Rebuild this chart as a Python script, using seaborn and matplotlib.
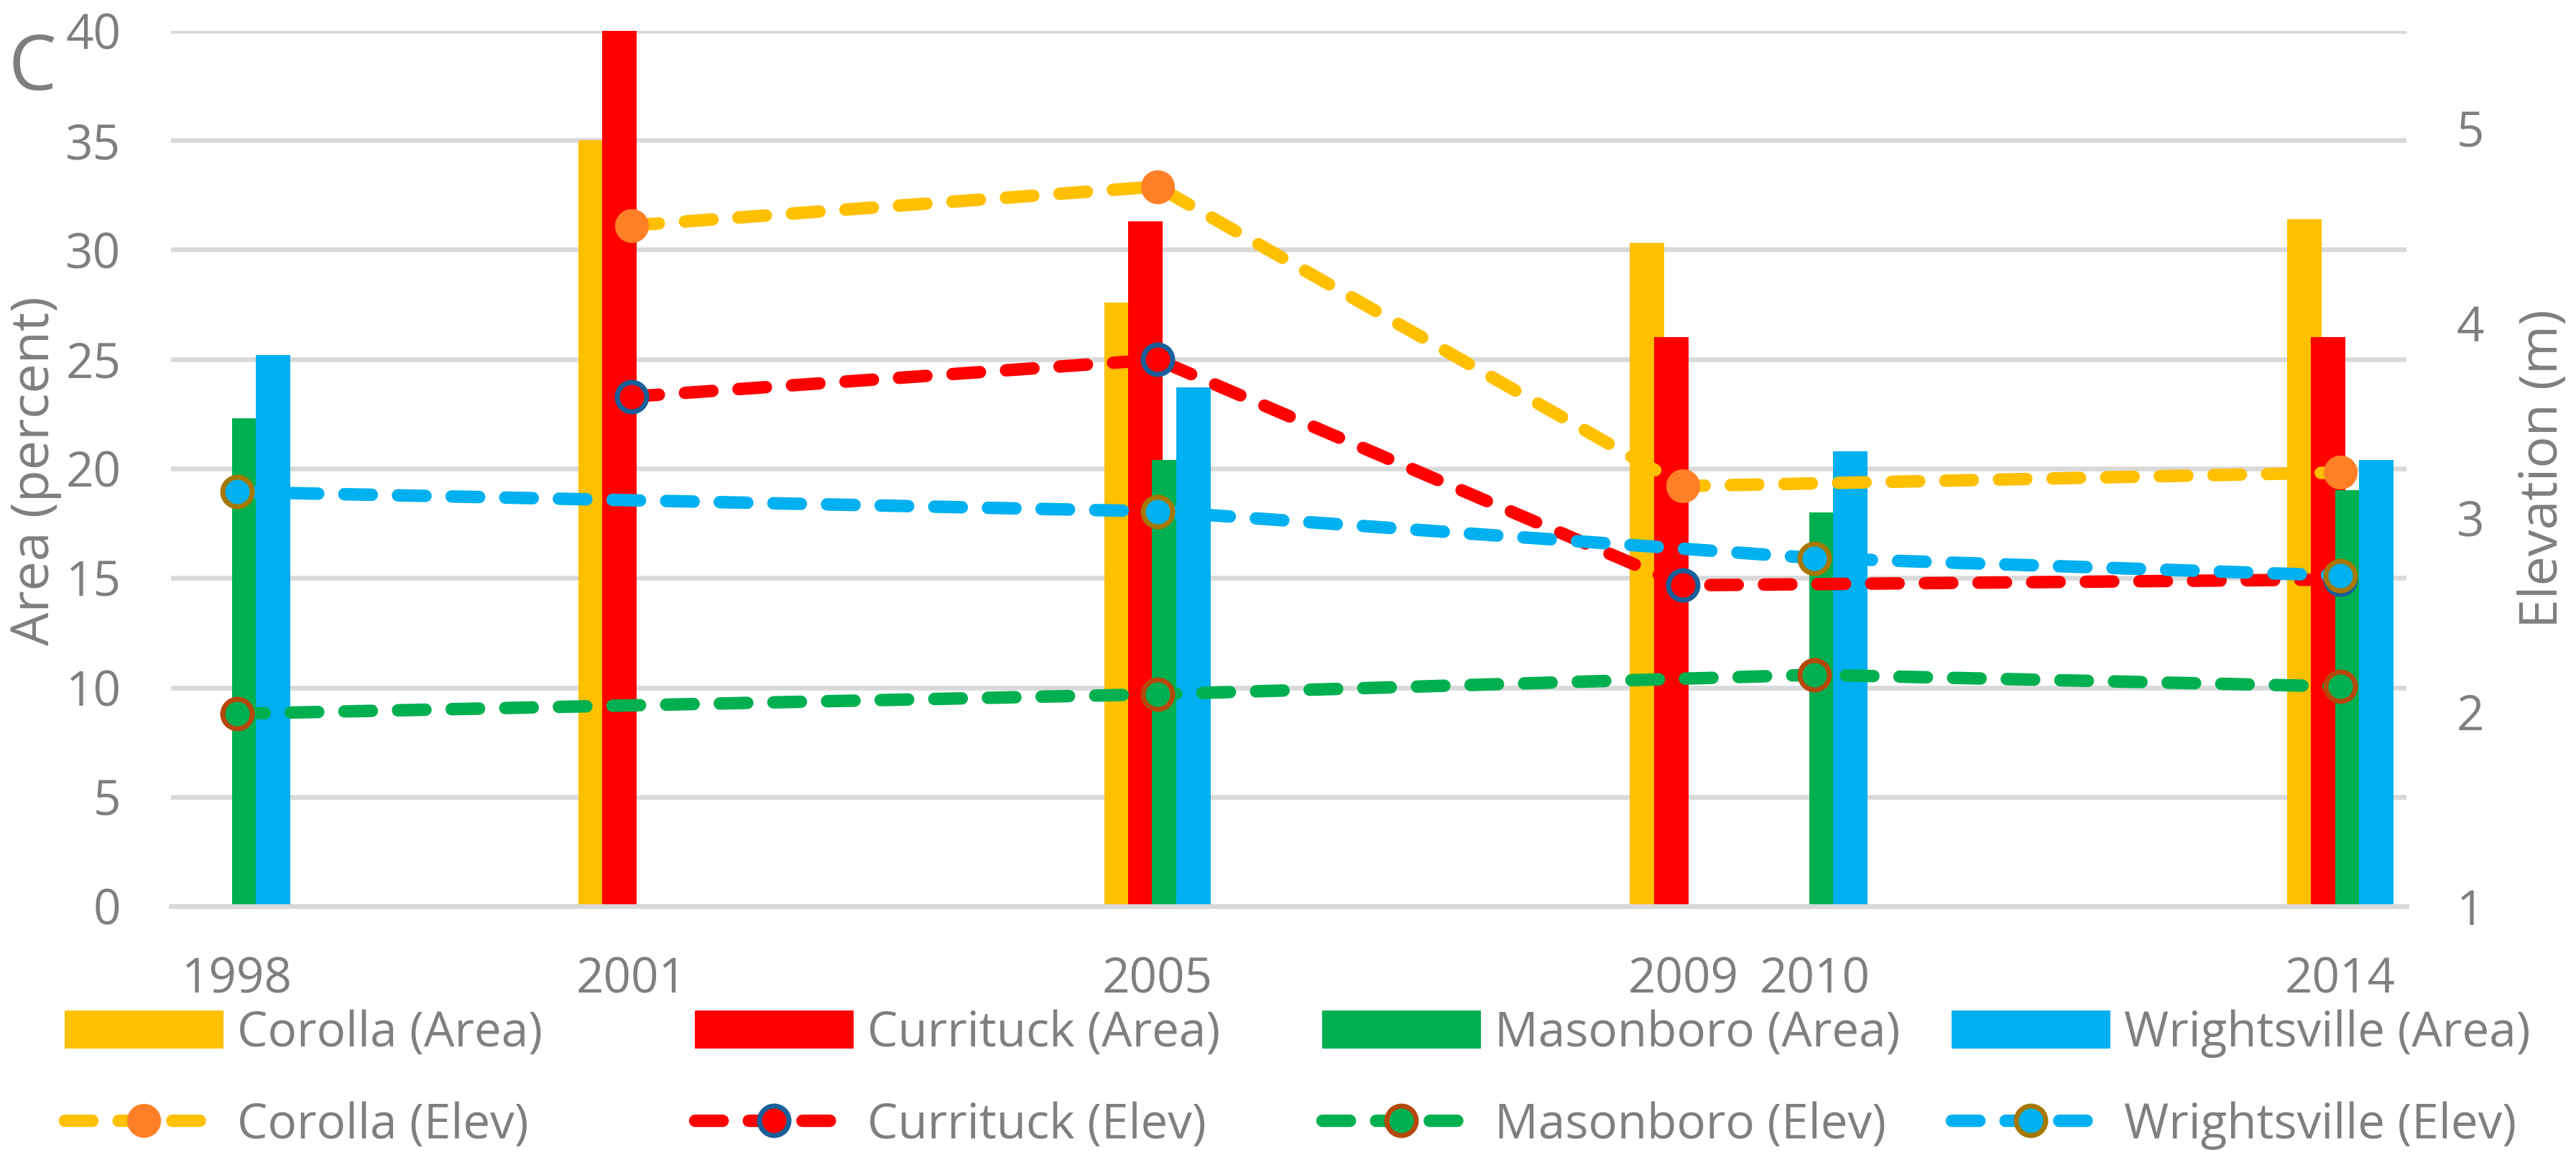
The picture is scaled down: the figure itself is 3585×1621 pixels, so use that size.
import numpy as np
import pandas as pd
import matplotlib
matplotlib.use("Agg")
import matplotlib.pyplot as plt
from matplotlib.patches import Patch
from matplotlib.lines import Line2D
import seaborn as sns

# ---------------- data ----------------
sites = ["Corolla", "Currituck", "Masonboro", "Wrightsville"]
year_ticks = [1998, 2001, 2005, 2009, 2010, 2014]
area_ticks = [0, 5, 10, 15, 20, 25, 30, 35, 40]
elev_ticks = [1, 2, 3, 4, 5]

corolla_years = [2001, 2005, 2009, 2014]
corolla_area = [35.0, 27.6, 30.3, 31.4]
corolla_elev = [4.50, 4.70, 3.16, 3.23]

currituck_years = [2001, 2005, 2009, 2014]
currituck_area = [40.0, 31.3, 26.0, 26.0]
currituck_elev = [3.62, 3.81, 2.65, 2.68]

masonboro_years = [1998, 2005, 2010, 2014]
masonboro_area = [22.3, 20.4, 18.0, 19.0]
masonboro_elev = [1.99, 2.09, 2.19, 2.13]

wrightsville_years = [1998, 2005, 2010, 2014]
wrightsville_area = [25.2, 23.7, 20.8, 20.4]
wrightsville_elev = [3.13, 3.03, 2.79, 2.70]

# ---------------- styles ----------------
bar_colors = {"Corolla": "#FFC000", "Currituck": "#FF0000",
              "Masonboro": "#00B050", "Wrightsville": "#00B0F0"}
marker_face = {"Corolla": "#FF7F27", "Currituck": "#FF0000",
               "Masonboro": "#00B050", "Wrightsville": "#00B0F0"}
marker_edge = {"Corolla": "#FF7F27", "Currituck": "#17609A",
               "Masonboro": "#B5480C", "Wrightsville": "#A67800"}
GREY = "#7F7F7F"
GRID = "#D9D9D9"
LW = 12.5
DASH = (0, (2.2, 2.1))
MS = 29.5
MEW = 5.0

series = {
    "Corolla": (corolla_years, corolla_area, corolla_elev),
    "Currituck": (currituck_years, currituck_area, currituck_elev),
    "Masonboro": (masonboro_years, masonboro_area, masonboro_elev),
    "Wrightsville": (wrightsville_years, wrightsville_area, wrightsville_elev),
}
frames = []
for s in sites:
    yrs, ar, el = series[s]
    frames.append(pd.DataFrame({"site": s, "year": yrs, "area": ar, "elev": el}))
df = pd.concat(frames, ignore_index=True)

plt.rcParams["font.family"] = ["Open Sans", "DejaVu Sans"]

W, H = 3585, 1621
fig = plt.figure(figsize=(W / 100, H / 100), dpi=100)
ax = fig.add_axes([238 / W, 1 - 1261 / H, (3349 - 238) / W, (1261 - 43) / H])

sns.barplot(data=df, x="year", y="area", hue="site", hue_order=sites,
            palette=bar_colors, native_scale=True, width=0.728, gap=-0.442,
            dodge=True, saturation=1, errorbar=None, linewidth=0,
            edgecolor="none", legend=False, orient="x", ax=ax)

ax2 = ax.twinx()
for s in sites:
    sub = df[df["site"] == s]
    sns.lineplot(data=sub, x="year", y="elev", ax=ax2, color=bar_colors[s],
                 linewidth=LW, linestyle=DASH, dash_capstyle="round",
                 marker="o", markersize=MS if s != "Corolla" else MS + MEW - 1,
                 markerfacecolor=marker_face[s], markeredgecolor=marker_edge[s],
                 markeredgewidth=MEW if s != "Corolla" else 0.5,
                 errorbar=None, legend=False)

ax.set_xlim(1997.497, 2014.503)
ax.set_ylim(0, 40)
ax2.set_ylim(1, 5.5)
ax.set_xticks(year_ticks)
ax.set_xticklabels([str(y) for y in year_ticks])
ax.set_yticks(area_ticks)
ax.set_yticklabels([str(v) for v in area_ticks])
ax2.set_yticks(elev_ticks)
ax2.set_yticklabels([str(v) for v in elev_ticks])

ax.set_axisbelow(True)
ax.yaxis.grid(True, color=GRID, linewidth=4.8)
ax.xaxis.grid(False)
for sp in ["top", "left", "right"]:
    ax.spines[sp].set_visible(False)
ax.spines["bottom"].set_color(GRID)
ax.spines["bottom"].set_linewidth(4.8)
for sp in ax2.spines.values():
    sp.set_visible(False)

ax.tick_params(axis="both", length=0, colors=GREY, labelsize=48.5)
ax.tick_params(axis="x", pad=50)
ax.tick_params(axis="y", pad=50)
ax2.tick_params(axis="y", length=0, colors=GREY, labelsize=48.5, pad=50)

ax.set_xlabel("")
ax.set_ylabel("Area (percent)", fontsize=53, color=GREY)
ax.yaxis.set_label_coords(-0.0489, 0.4975)
ax2.set_ylabel("Elevation (m)", fontsize=53, color=GREY)
ax2.yaxis.set_label_coords(1.0495, 0.5)

# legends (one per site column)
col_x = [90 / W, 967 / W, 1840 / W, 2716 / W]
for i, s in enumerate(sites):
    handles = [
        Patch(facecolor=bar_colors[s], edgecolor="none"),
        Line2D([], [], color=bar_colors[s], linewidth=LW, linestyle=DASH,
               dash_capstyle="round", marker="o",
               markersize=MS if s != "Corolla" else MS + MEW - 1,
               markerfacecolor=marker_face[s], markeredgecolor=marker_edge[s],
               markeredgewidth=MEW if s != "Corolla" else 0.5),
    ]
    labels = [f"{s} (Area)", f"{s} (Elev)"]
    fig.legend(handles, labels, loc="center left",
               bbox_to_anchor=(col_x[i], 1 - 1502 / H), frameon=False,
               fontsize=48.5, handlelength=3.28, handleheight=0.85,
               handletextpad=0.29, labelspacing=0.9, borderpad=0,
               borderaxespad=0, labelcolor=GREY)

fig.text(11 / W, 1 - 125 / H, "C", fontsize=76.5, color=GREY,
         ha="left", va="baseline")

fig.savefig("out.png", dpi=100)
